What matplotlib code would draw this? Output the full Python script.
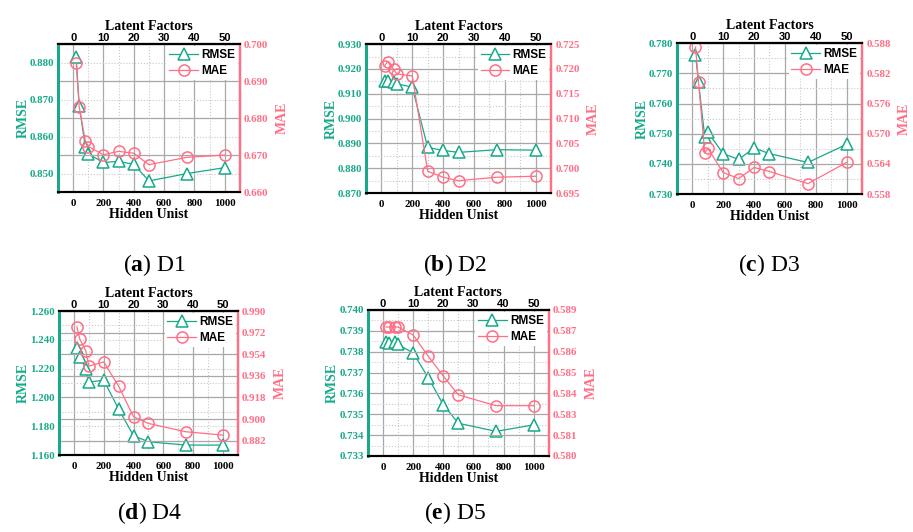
import numpy as np
import matplotlib
matplotlib.use("Agg")
import matplotlib.pyplot as plt
from matplotlib.ticker import FixedLocator, FixedFormatter, MultipleLocator

plt.rcParams["font.family"] = "Liberation Serif"
plt.rcParams["mathtext.fontset"] = "custom"
plt.rcParams["mathtext.rm"] = "Liberation Serif"
plt.rcParams["mathtext.bf"] = "Liberation Serif:bold"

TEAL = "#17A98A"
PINK = "#FF6F86"

# Datos
hidden = [20, 40, 80, 100, 200, 300, 400, 500, 750, 1000]
rmse_d1 = [0.8816, 0.8684, 0.8573, 0.8553, 0.8530, 0.8533, 0.8525, 0.8480, 0.8500, 0.8516]
mae_d1 = [0.6950, 0.6830, 0.6739, 0.6723, 0.6701, 0.6710, 0.6705, 0.6674, 0.6694, 0.6700]
rmse_d2 = [0.9150, 0.9152, 0.9146, 0.9140, 0.9127, 0.8884, 0.8872, 0.8864, 0.8875, 0.8873]
mae_d2 = [0.7206, 0.7215, 0.7199, 0.7190, 0.7186, 0.6994, 0.6982, 0.6975, 0.6982, 0.6984]
rmse_d3 = [0.7761, 0.7671, 0.7489, 0.7505, 0.7434, 0.7415, 0.7453, 0.7434, 0.7405, 0.7465]
mae_d3 = [0.5872, 0.5802, 0.5662, 0.5671, 0.5623, 0.5611, 0.5633, 0.5625, 0.5601, 0.5643]
rmse_d4 = [1.2346, 1.2281, 1.2200, 1.2106, 1.2120, 1.1919, 1.1734, 1.1692, 1.1669, 1.1669]
mae_d4 = [0.9767, 0.9664, 0.9567, 0.9440, 0.9476, 0.9274, 0.9019, 0.8963, 0.8894, 0.8866]
rmse_d5 = [0.73846, 0.73843, 0.73846, 0.73835, 0.73794, 0.73676, 0.73546, 0.73457, 0.73418, 0.73449]
mae_d5 = [0.58795, 0.58795, 0.58795, 0.58795, 0.58746, 0.58615, 0.58493, 0.58377, 0.58310, 0.58310]

# Etiquetas de los ejes (como aparecen en la figura)
rmse_labels_d1 = ["0.850", "0.860", "0.870", "0.880"]
mae_labels_d1 = ["0.660", "0.670", "0.680", "0.690", "0.700"]
rmse_labels_d2 = ["0.870", "0.880", "0.890", "0.900", "0.910", "0.920", "0.930"]
mae_labels_d2 = ["0.695", "0.700", "0.705", "0.710", "0.715", "0.720", "0.725"]
rmse_labels_d3 = ["0.730", "0.740", "0.750", "0.760", "0.770", "0.780"]
mae_labels_d3 = ["0.558", "0.564", "0.570", "0.576", "0.582", "0.588"]
rmse_labels_d4 = ["1.160", "1.180", "1.200", "1.220", "1.240", "1.260"]
mae_labels_d4 = ["0.882", "0.900", "0.918", "0.936", "0.954", "0.972", "0.990"]
rmse_labels_d5 = ["0.733", "0.734", "0.735", "0.736", "0.737", "0.738", "0.739", "0.740"]
mae_labels_d5 = ["0.580", "0.581", "0.583", "0.584", "0.585", "0.586", "0.587", "0.589"]

panels = [
    dict(rect=[0.0635, 0.639, 0.1993, 0.278], rmse=rmse_d1, mae=mae_d1,
         ylim=(0.845, 0.885), yticks=[0.85, 0.86, 0.87, 0.88], yminor=0.005,
         y2lim=(0.660, 0.700), y2ticks=np.linspace(0.660, 0.700, 5),
         ylab=rmse_labels_d1, y2lab=mae_labels_d1, cap="a", name="D1", cpos=(154, 265)),
    dict(rect=[0.4009, 0.637, 0.2026, 0.280], rmse=rmse_d2, mae=mae_d2,
         ylim=(0.870, 0.930), yticks=np.linspace(0.870, 0.930, 7), yminor=0.005,
         y2lim=(0.695, 0.725), y2ticks=np.linspace(0.695, 0.725, 7),
         ylab=rmse_labels_d2, y2lab=mae_labels_d2, cap="b", name="D2", cpos=(455, 265)),
    dict(rect=[0.7415, 0.635, 0.2026, 0.284], rmse=rmse_d3, mae=mae_d3,
         ylim=(0.730, 0.780), yticks=np.linspace(0.730, 0.780, 6), yminor=0.005,
         y2lim=(0.558, 0.588), y2ticks=np.linspace(0.558, 0.588, 6),
         ylab=rmse_labels_d3, y2lab=mae_labels_d3, cap="c", name="D3", cpos=(769, 265)),
    dict(rect=[0.0646, 0.1447, 0.196, 0.2707], rmse=rmse_d4, mae=mae_d4,
         ylim=(1.160, 1.260), yticks=np.linspace(1.160, 1.260, 6), yminor=0.01,
         y2lim=(0.870, 0.990), y2ticks=np.linspace(0.882, 0.990, 7),
         ylab=rmse_labels_d4, y2lab=mae_labels_d4, cap="d", name="D4", cpos=(150, 513)),
    dict(rect=[0.403, 0.1429, 0.198, 0.2744], rmse=rmse_d5, mae=mae_d5,
         ylim=(0.733, 0.740), yticks=np.linspace(0.733, 0.740, 8), yminor=0.0005,
         y2lim=(0.580, 0.589), y2ticks=np.linspace(0.580, 0.589, 8),
         ylab=rmse_labels_d5, y2lab=mae_labels_d5, cap="e", name="D5", cpos=(455, 513)),
]

fig = plt.figure(figsize=(9.13, 5.32), dpi=100)
W, H = 913, 532
tick_font = dict(family="Liberation Serif", weight="bold", size=7.8)
label_font = dict(family="Liberation Serif", weight="bold", size=10)

for p in panels:
    ax = fig.add_axes(p["rect"])
    ax2 = ax.twinx()
    ax.set_xlim(-100, 1100)
    ax.xaxis.set_major_locator(MultipleLocator(200))
    ax.xaxis.set_minor_locator(MultipleLocator(100))
    ax.set_ylim(*p["ylim"])
    ax.yaxis.set_major_locator(FixedLocator(p["yticks"]))
    ax.yaxis.set_major_formatter(FixedFormatter(p["ylab"]))
    ax.yaxis.set_minor_locator(MultipleLocator(p["yminor"]))
    ax2.set_ylim(*p["y2lim"])
    ax2.yaxis.set_major_locator(FixedLocator(p["y2ticks"]))
    ax2.yaxis.set_major_formatter(FixedFormatter(p["y2lab"]))
    # Rejilla
    ax.grid(True, which="major", axis="x", color="#a8a8a8", lw=0.9, ls="-")
    ax.grid(True, which="minor", axis="x", color="#c8c8c8", lw=0.8, ls=":")
    ax.grid(True, which="both", axis="y", color="#c8c8c8", lw=0.8, ls=":")
    ax2.grid(True, which="major", axis="y", color="#a8a8a8", lw=0.9, ls="-")
    ax.set_axisbelow(True)
    ax2.set_axisbelow(True)
    # Series
    l1, = ax.plot(hidden, p["rmse"], color=TEAL, lw=0.9, marker="^", ms=8.5,
                  mfc="white", mec=TEAL, mew=1.1, label="RMSE")
    l2, = ax2.plot(hidden, p["mae"], color=PINK, lw=0.9, marker="o", ms=8,
                   mfc="none", mec=PINK, mew=1.1, label="MAE")
    # Ejes
    for a in (ax, ax2):
        a.spines["left"].set_color(TEAL)
        a.spines["left"].set_linewidth(2)
        a.spines["right"].set_color(PINK)
        a.spines["right"].set_linewidth(1.6)
        a.spines["bottom"].set_linewidth(1.5)
        a.spines["top"].set_linewidth(1.5)
    ax.tick_params(axis="x", which="both", direction="in", length=0, pad=5)
    ax.tick_params(axis="y", which="both", direction="in", length=0, pad=3)
    ax2.tick_params(axis="y", which="both", direction="in", length=0, pad=3)
    for t in ax.get_yticklabels():
        t.set(color=TEAL, **tick_font)
    for t in ax2.get_yticklabels():
        t.set(color=PINK, **tick_font)
    for t in ax.get_xticklabels():
        t.set(**tick_font)
    ax.set_ylabel("RMSE", color=TEAL, labelpad=0, **label_font)
    ax2.set_ylabel("MAE", color=PINK, labelpad=5, **label_font)
    ax.set_xlabel("Hidden Unist", labelpad=0, **label_font)
    top = ax.secondary_xaxis("top", functions=(lambda x: x / 20, lambda x: x * 20))
    top.set_xticks([0, 10, 20, 30, 40, 50])
    top.tick_params(length=0, pad=1)
    top.spines["top"].set_linewidth(1.5)
    for t in top.get_xticklabels():
        t.set(family="Liberation Sans", weight="bold", size=8)
    top.set_xlabel("Latent Factors", labelpad=2, **label_font)
    leg = ax2.legend([l1, l2], ["RMSE", "MAE"], loc="upper right",
                     prop=dict(family="Liberation Sans", weight="bold", size=8.5),
                     frameon=True, fancybox=False, edgecolor="none",
                     framealpha=1, borderaxespad=0.15, handlelength=2.4,
                     handletextpad=0.3, labelspacing=0.35, borderpad=0.25)
    # Titulo del panel
    fig.text(p["cpos"][0] / W, 1 - p["cpos"][1] / H,
             r"($\mathbf{%s}$) %s" % (p["cap"], p["name"]),
             ha="center", va="center", fontsize=17, family="Liberation Serif")

fig.savefig("out.png", dpi=100)
